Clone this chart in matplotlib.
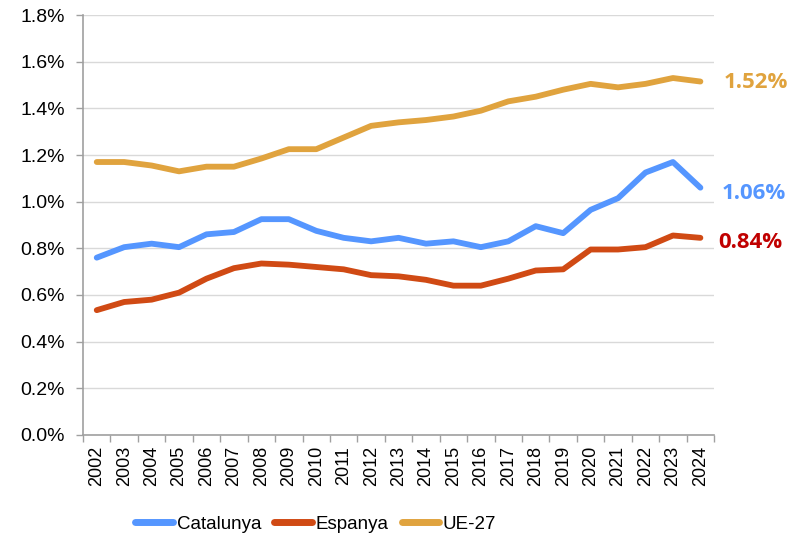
import matplotlib.pyplot as plt
from matplotlib.ticker import FixedLocator, FuncFormatter

years = [str(y) for y in range(2002, 2025)]
catalunya = [0.76, 0.805, 0.82, 0.805, 0.86, 0.87, 0.925, 0.925, 0.875, 0.845, 0.83, 0.845,
             0.82, 0.83, 0.805, 0.83, 0.895, 0.865, 0.965, 1.015, 1.125, 1.17, 1.06]
espanya = [0.535, 0.57, 0.58, 0.61, 0.67, 0.715, 0.735, 0.73, 0.72, 0.71, 0.685, 0.68,
           0.665, 0.64, 0.64, 0.67, 0.705, 0.71, 0.795, 0.795, 0.805, 0.855, 0.845]
ue27 = [1.17, 1.17, 1.155, 1.13, 1.15, 1.15, 1.185, 1.225, 1.225, 1.275, 1.325, 1.34,
        1.35, 1.365, 1.39, 1.43, 1.45, 1.48, 1.505, 1.49, 1.505, 1.53, 1.515]
end_labels = ["1.06%", "0.84%", "1.52%"]

C_CAT = "#5596FF"
C_ESP = "#D04A14"
C_UE = "#E0A33E"

plt.rcParams["font.family"] = ["Liberation Sans", "DejaVu Sans"]

fig = plt.figure(figsize=(8.06, 5.37), dpi=100)
ax = fig.add_axes([0.103, 0.19, 0.783, 0.782])

x = list(range(len(years)))
series = [("Catalunya", catalunya, C_CAT), ("Espanya", espanya, C_ESP), ("UE-27", ue27, C_UE)]
for name, vals, col in series:
    ax.plot(x, vals, color=col, linewidth=4.2, solid_capstyle="round",
            solid_joinstyle="round", label=name, zorder=3)

ax.set_xlim(-0.5, len(years) - 0.5)
ax.set_ylim(0, 1.8)
ax.set_yticks([i * 0.2 for i in range(10)])
ax.yaxis.set_major_formatter(FuncFormatter(lambda v, _: f"{v:.1f}%"))
ax.grid(axis="y", color="#D9D9D9", linewidth=1.0, zorder=0)
ax.set_axisbelow(True)

ax.set_xticks(x)
ax.set_xticklabels(years, rotation=90)
ax.xaxis.set_minor_locator(FixedLocator([i - 0.5 for i in range(len(years) + 1)]))
ax.tick_params(axis="x", which="major", length=0, pad=8, labelsize=13)
ax.tick_params(axis="x", which="minor", length=5, color="#A0A0A0", width=1)
ax.tick_params(axis="y", length=5, color="#A0A0A0", width=1, labelsize=14, pad=8)

for s in ("top", "right"):
    ax.spines[s].set_visible(False)
for s in ("left", "bottom"):
    ax.spines[s].set_color("#A0A0A0")
    ax.spines[s].set_linewidth(1.2)

label_cols = [C_CAT, "#C00000", C_UE]
label_offsets = [(15, -4), (13, -3.5), (16.5, -1)]
for (name, vals, col), txt, lc, off in zip(series, end_labels, label_cols, label_offsets):
    ax.annotate(txt, (x[-1], vals[-1]), xytext=off, textcoords="offset points",
                ha="left", va="center", color=lc, fontsize=16, fontweight="bold",
                family=["Open Sans", "DejaVu Sans"], annotation_clip=False)

leg = fig.legend(loc="center", bbox_to_anchor=(0.392, 0.024), ncol=3, frameon=False,
                 fontsize=13.5, handlelength=2.0, columnspacing=0.7, handletextpad=0.2)
for h in leg.get_lines():
    h.set_linewidth(5)
    h.set_solid_capstyle("round")

fig.savefig("out.png", dpi=100)
